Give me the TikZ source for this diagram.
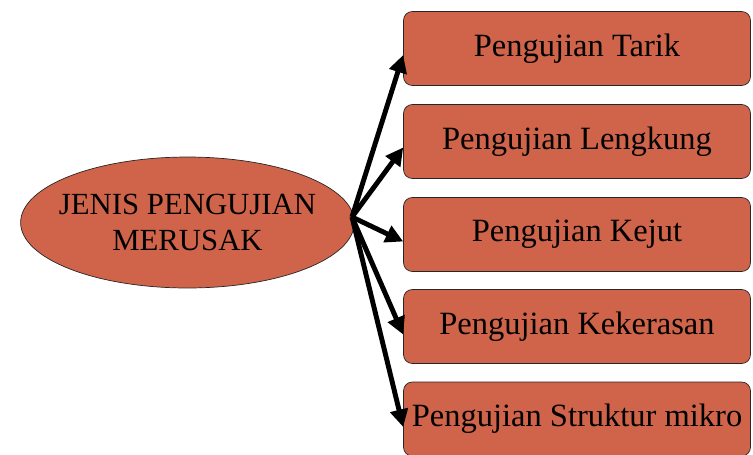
\documentclass[tikz,border=0pt]{standalone}
\usepackage{fontspec}
\setmainfont{Liberation Serif}
\usepackage{tikz}
\usetikzlibrary{shapes.geometric,arrows.meta}

\definecolor{bata}{RGB}{208,100,74}
\tikzset{
	uji/.style={draw=black!85, fill=bata, rounded corners=5pt, minimum width=6.94cm, minimum height=1.48cm, inner sep=0pt, font=\fontsize{18.5}{21}\selectfont},
	jenis/.style={ellipse, draw=black!85, fill=bata, minimum width=6.64cm, minimum height=2.62cm, inner sep=0pt, inner xsep=-6pt, align=center, font=\fontsize{17.5}{20}\selectfont},
	panah/.style={line width=2.8pt, -{Triangle[length=10pt,width=10pt]}}
}

\begin{document}
\begin{tikzpicture}[x=0.02cm, y=-0.02cm]
			%%%%% START %%%%%
			
			\useasboundingbox (0, 0) rectangle (753, 454);
			
			\node[jenis] (jenis) at (187.5, 222.5) {JENIS PENGUJIAN\\MERUSAK};
			
			\node[uji] (tarik) at (577, 48.5) {Pengujian Tarik};
			\node[uji] (lengkung) at (577, 141.5) {Pengujian Lengkung};
			\node[uji] (kejut) at (577, 234.5) {Pengujian Kejut};
			\node[uji] (keras) at (577, 326.5) {Pengujian Kekerasan};
			\node[uji] (mikro) at (577, 419) {Pengujian Struktur mikro};
			
			\coordinate (pusat) at (352, 217);
			
			\draw[panah] (pusat) -- ([yshift=-0.13cm]tarik.west);
			\draw[panah] (pusat) -- ([yshift=-0.12cm]lengkung.west);
			\draw[panah] (pusat) -- ([yshift=-0.14cm]kejut.west);
			\draw[panah] (pusat) -- ([yshift=-0.16cm]keras.west);
			\draw[panah] (pusat) -- ([yshift=-0.16cm]mikro.west);
			
			%%%%% END %%%%%
\end{tikzpicture}
\end{document}
